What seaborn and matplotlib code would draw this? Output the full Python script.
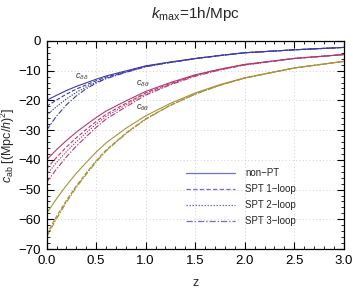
import numpy as np
import pandas as pd
import matplotlib
matplotlib.use("Agg")
import matplotlib.pyplot as plt
from matplotlib.lines import Line2D
from matplotlib.ticker import MultipleLocator
import seaborn as sns

sns.set_theme(style="ticks")
plt.rcParams['font.family'] = ['Liberation Sans', 'DejaVu Sans']
plt.rcParams['mathtext.fontset'] = 'custom'
plt.rcParams['mathtext.rm'] = 'Liberation Sans'
plt.rcParams['mathtext.it'] = 'Liberation Sans:italic'

z = [0, 0.1, 0.2, 0.3, 0.4, 0.5, 0.6, 0.8, 1.0, 1.25, 1.5, 1.75, 2.0, 2.5, 3.0]

dd_nonpt = [-20, -18.3, -16.7, -15.3, -14.1, -12.9, -11.8, -10.1, -8.4, -7.1, -5.9, -4.9, -4.0, -3.0, -2.2]
dd_spt1 = [-22, -19.9, -17.9, -16.2, -14.8, -13.4, -12.2, -10.35, -8.55, -7.2, -5.95, -4.9, -4.0, -3.0, -2.2]
dd_spt2 = [-25, -22.1, -19.5, -17.3, -15.5, -13.9, -12.5, -10.5, -8.65, -7.22, -5.98, -4.95, -4.0, -3.0, -2.2]
dd_spt3 = [-30, -25.3, -21.5, -18.5, -16.1, -14.2, -12.7, -10.6, -8.7, -7.25, -6.0, -4.95, -4.0, -3.0, -2.2]

dt_nonpt = [-40, -36.6, -33.5, -30.7, -28.2, -25.8, -23.6, -20.2, -17.0, -14.0, -11.4, -9.5, -7.9, -5.9, -4.6]
dt_spt1 = [-43, -39.2, -35.7, -32.6, -29.8, -27.1, -24.7, -21.0, -17.5, -14.3, -11.6, -9.6, -8.0, -5.9, -4.6]
dt_spt2 = [-45, -40.9, -37.2, -33.9, -30.9, -28.0, -25.4, -21.5, -17.8, -14.5, -11.7, -9.7, -8.05, -5.9, -4.6]
dt_spt3 = [-47.5, -43.1, -39.0, -35.4, -32.2, -29.1, -26.3, -22.2, -18.25, -14.75, -11.9, -9.75, -8.1, -5.95, -4.6]

tt_nonpt = [-58, -53.1, -48.6, -44.5, -40.9, -37.4, -34.3, -29.4, -25.2, -21.0, -17.5, -14.7, -12.4, -9.1, -6.9]
tt_spt1 = [-65, -59.0, -53.6, -48.7, -44.4, -40.3, -36.7, -31.0, -26.2, -21.6, -17.85, -14.9, -12.5, -9.1, -6.9]
tt_spt2 = [-65.5, -59.4, -53.95, -49.0, -44.65, -40.5, -36.85, -31.1, -26.27, -21.64, -17.87, -14.91, -12.5, -9.1, -6.9]
tt_spt3 = [-66, -59.85, -54.3, -49.3, -44.9, -40.7, -37.05, -31.25, -26.35, -21.7, -17.9, -14.93, -12.52, -9.1, -6.9]

models = ["non\u2212PT", "SPT 1\u2212loop", "SPT 2\u2212loop", "SPT 3\u2212loop"]
curve_labels = [r"$c_{\delta\delta}$", r"$c_{\delta\theta}$", r"$c_{\theta\theta}$"]

series = {
    "dd": [dd_nonpt, dd_spt1, dd_spt2, dd_spt3],
    "dt": [dt_nonpt, dt_spt1, dt_spt2, dt_spt3],
    "tt": [tt_nonpt, tt_spt1, tt_spt2, tt_spt3],
}
colors = {"dd": "#3c3ca6", "dt": "#b13a72", "tt": "#a8923c"}
dashes = [(None, None), (3.5, 1.8), (1.2, 1.2), (5, 1.5, 1.2, 1.5)]

rows = []
for key, lst in series.items():
    for m, vals in zip(models, lst):
        for zi, v in zip(z, vals):
            rows.append({"z": zi, "c": v, "corr": key, "model": m})
df = pd.DataFrame(rows)

fig = plt.figure(figsize=(3.53, 2.92), dpi=100)
ax = fig.add_axes([0.132, 0.147, 0.842, 0.713])

for key in series:
    for i, m in enumerate(models):
        sub = df[(df["corr"] == key) & (df["model"] == m)]
        sns.lineplot(data=sub, x="z", y="c", ax=ax, color=colors[key],
                     lw=0.8, legend=False, sort=True)
        line = ax.lines[-1]
        if dashes[i][0] is not None:
            line.set_dashes(dashes[i])

ax.set_xlim(0, 3.0)
ax.set_ylim(-70, 0)
ax.xaxis.set_major_locator(MultipleLocator(0.5))
ax.xaxis.set_minor_locator(MultipleLocator(0.1))
ax.yaxis.set_major_locator(MultipleLocator(10))
ax.yaxis.set_minor_locator(MultipleLocator(2))
ax.xaxis.set_major_formatter(matplotlib.ticker.FormatStrFormatter('%.1f'))
ax.yaxis.set_major_formatter(matplotlib.ticker.FuncFormatter(lambda v, p: f"{int(v)}".replace("-", "\u2212")))
ax.tick_params(which="both", direction="in", top=True, right=True, colors="black")
ax.tick_params(which="major", length=5, width=0.8, labelsize=9.5, pad=4)
ax.tick_params(which="minor", length=2.5, width=0.6)
ax.grid(True, which="major", ls=(0, (1, 2.5)), color="#d0d0d0", lw=0.7)
for s in ax.spines.values():
    s.set_linewidth(0.9)
    s.set_color("black")

ax.set_xlabel("z", fontsize=9)
ax.xaxis.set_label_coords(0.5, -0.135)
ax.set_ylabel(r"$c_{\rm ab}$ [(Mpc/$h$)$^2$]", fontsize=9)
ax.yaxis.set_label_coords(-0.098, 0.5)
fig.text(0.553, 0.952, r"$k_{\rm max}$=1h/Mpc", ha="center", va="center", fontsize=11)

ax.text(0.29, -12.1, curve_labels[0], fontsize=6.5, color="#333333", va="center")
ax.text(0.9, -14.5, curve_labels[1], fontsize=6.5, color="#333333", va="center")
ax.text(0.9, -22.6, curve_labels[2], fontsize=6.5, color="#333333", va="center")

lc = "#6f6fc8"
handles = [Line2D([0], [0], color=lc, lw=0.9, dashes=d) if d[0] is not None
           else Line2D([0], [0], color=lc, lw=0.9) for d in dashes]
leg = ax.legend(handles, models, loc="center left", bbox_to_anchor=(0.44, 0.25),
                frameon=False, fontsize=7, handlelength=5.0, handletextpad=1.1,
                labelspacing=0.62, borderpad=0.4)

fig.savefig("out.png", dpi=100)
